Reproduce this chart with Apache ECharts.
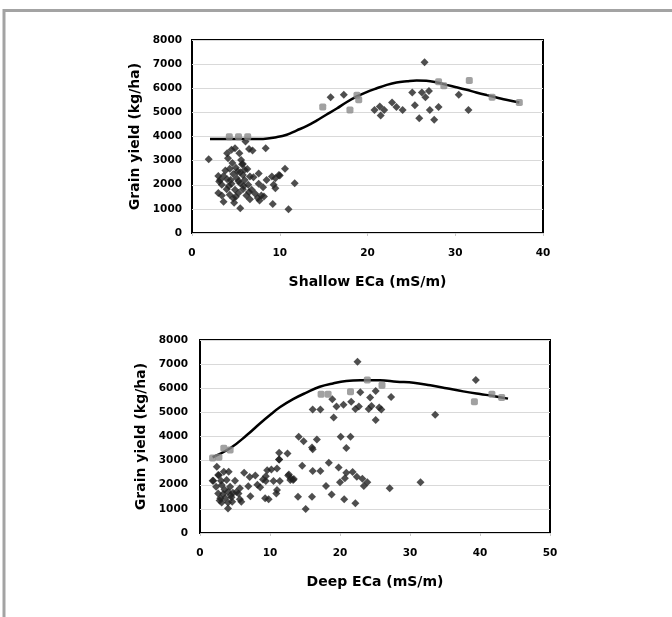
<!DOCTYPE html>
<html>
<head>
<meta charset="utf-8">
<script src="https://cdn.jsdelivr.net/npm/echarts@6/dist/echarts.min.js"></script>
<style>
html,body{margin:0;padding:0;background:#fff;}
#chart{width:672px;height:617px;}
</style>
</head>
<body>
<div id="chart"></div>
<script>
// ---- Data ----
// Shallow ECa panel: observations (x = ECa mS/m, y = grain yield kg/ha)
const shallowX = [1.9,6.1,4.9,4.5,4.0,5.4,6.5,6.9,8.4,4.1,5.6,5.8,4.3,3.8,5.0,5.5,3.0,3.6,4.7,5.8,6.6,7.6,10.6,9.9,9.1,3.2,4.0,5.1,6.0,7.0,8.5,9.5,11.7,3.4,4.5,5.5,6.4,7.6,9.3,9.5,8.1,3.95,4.9,5.8,6.8,3.4,4.3,5.3,6.2,7.2,7.9,3.6,4.7,6.6,7.7,8.2,9.2,5.5,11.0,3.0,10.0,4.6,5.2,6.3,4.2,5.9,6.5,5.0,7.5,6.0,4.4,5.3,5.7,3.1,4.8,
  15.8,17.3,26.5,20.8,21.4,21.5,21.9,22.8,23.3,24.0,25.1,25.4,25.9,26.2,26.6,27.0,27.1,27.6,28.1,30.4,31.5];
const shallowY = [3060,3790,3510,3450,3310,3310,3480,3420,3510,3100,3030,2860,2660,2590,2700,2520,2360,2360,2450,2400,2340,2470,2660,2400,2340,2200,2230,2270,2200,2310,2200,2270,2060,2000,2040,2060,2000,2040,2000,1860,1900,1810,1790,1810,1790,1550,1590,1660,1550,1630,1550,1300,1440,1400,1350,1510,1200,1030,980,1660,2380,2900,2550,2650,1950,1950,1700,1500,1450,2620,2200,2150,2850,2130,1250,
  5630,5730,7080,5100,5240,4870,5100,5410,5220,5100,5820,5300,4760,5820,5630,5890,5100,4690,5220,5730,5100];
// Shallow ECa panel: boundary points (grey)
const shallowBX = [4.25,5.3,6.35,14.9,18.8,18.0,19.0,28.1,28.7,31.6,34.2,37.3];
const shallowBY = [3990,3990,3990,5220,5710,5100,5520,6270,6100,6320,5630,5410];
// Shallow ECa panel: boundary line
const shallowCurveX = [2.05,8.1,9.6,10.8,11.9,13.1,14.2,15.3,16.5,17.6,18.8,19.9,21.0,22.2,23.3,24.5,25.6,26.7,27.9,29.0,30.1,31.3,32.4,33.6,34.7,35.8,37.3];
const shallowCurveY = [3900,3900,3970,4070,4245,4440,4660,4900,5160,5420,5660,5840,5990,6140,6240,6290,6320,6310,6240,6140,6045,5935,5825,5715,5620,5520,5410];

// Deep ECa panel: observations
const deepX = [22.5,39.4,33.6,31.5,27.1,27.3,25.1,24.3,22.9,21.6,22.2,22.7,24.1,24.5,25.6,25.9,25.1,20.5,19.5,18.9,19.1,16.1,17.2,14.1,14.8,16.7,16.0,16.1,20.1,21.5,20.9,11.3,11.3,12.5,14.6,18.4,19.8,16.1,17.2,20.9,21.8,22.4,23.2,20.0,20.7,23.9,23.4,18.0,18.8,14.0,16.0,20.6,22.2,15.1,12.7,13.0,13.4,
  2.4,1.9,2.6,3.4,4.1,3.0,3.8,5.0,2.3,3.1,4.3,5.7,2.6,3.3,4.0,4.7,5.5,2.9,4.5,5.7,3.1,4.0,4.6,5.9,4.0,6.3,7.1,7.9,6.9,7.2,8.6,9.0,9.4,9.6,10.2,11.0,11.3,9.4,10.5,11.4,9.3,10.9,11.0,12.6,12.9,13.3,1.8,2.7,3.5,4.4,2.8,3.6,5.2,8.2,9.8];
const deepY = [7100,6340,4900,2100,1850,5640,5890,5620,5830,5440,5140,5240,5140,5260,5200,5120,4680,5320,5240,5540,4790,5120,5120,3990,3800,3880,3540,3470,3990,3990,3520,3330,3050,3300,2790,2910,2720,2570,2570,2500,2530,2330,2250,2100,2270,2100,1950,1950,1600,1500,1500,1400,1230,1000,2430,2270,2240,
  2750,2170,2400,2540,2540,2170,2200,2170,1920,1990,1920,1850,1640,1620,1710,1670,1640,1440,1480,1400,1260,1260,1300,1300,1020,2500,2320,2380,1940,1520,1900,2220,2350,2600,2630,2670,3050,2160,2160,2160,1440,1640,1780,2380,2200,2200,2170,2390,1800,1560,1350,1450,1700,2000,1400];
// Deep ECa panel: boundary points (grey)
const deepBX = [1.8,2.7,3.4,4.3,17.3,18.3,21.5,23.9,26.0,39.2,41.7,43.1];
const deepBY = [3110,3140,3510,3440,5750,5750,5850,6340,6120,5440,5750,5620];
// Deep ECa panel: boundary line
const deepCurveX = [1.8,4.3,6.7,8.6,10.0,11.4,13.3,15.2,17.1,19.0,20.9,22.9,25.7,28.1,30.5,32.9,35.2,37.6,40.0,41.9,44.0];
const deepCurveY = [3140,3510,4060,4550,4890,5210,5550,5820,6060,6200,6300,6330,6330,6270,6230,6120,6000,5870,5760,5680,5570];

// Axis settings
const yTicks = [0,1000,2000,3000,4000,5000,6000,7000,8000];
const shallowXMax = 40, deepXMax = 50, xStep = 10;
const yLabel = 'Grain yield (kg/ha)';
const shallowName = 'Shallow ECa (mS/m)';
const deepName = 'Deep ECa (mS/m)';

// ---- Build chart ----
const zip = (a, b) => a.map((v, i) => [v, b[i]]);
const FONT = 'DejaVu Sans';
const tickLabel = { fontFamily: FONT, fontWeight: 'bold', fontSize: 10.5, color: '#000' };
const nameStyle = { fontFamily: FONT, fontWeight: 'bold', fontSize: 14, color: '#000' };

function xAxisCfg(gi, max, name) {
  return {
    gridIndex: gi, type: 'value', min: 0, max: max, interval: xStep,
    name: name, nameLocation: 'middle', nameGap: 42, nameTextStyle: nameStyle,
    axisLine: { show: false },
    axisTick: { show: true, length: 3, lineStyle: { color: '#c8c8c8' } },
    axisLabel: Object.assign({ margin: 15, formatter: v => String(v) }, tickLabel),
    splitLine: { show: false }
  };
}
function yAxisCfg(gi, margin, gap) {
  return {
    gridIndex: gi, type: 'value', min: yTicks[0], max: yTicks[yTicks.length - 1], interval: yTicks[1] - yTicks[0],
    name: yLabel, nameLocation: 'middle', nameGap: gap, nameTextStyle: nameStyle,
    axisLine: { show: false }, axisTick: { show: false },
    axisLabel: Object.assign({ margin: margin, formatter: v => String(v) }, tickLabel),
    splitLine: { show: true, lineStyle: { color: '#d9d9d9', width: 1 } }
  };
}
const dark = { color: '#222222' };
const grey = { color: '#8a8a8a' };

const option = {
  animation: false,
  backgroundColor: '#fff',
  graphic: [{
    type: 'rect', z: 100,
    shape: { x: 4, y: 10.5, width: 800, height: 800 },
    style: { fill: 'none', stroke: '#a3a3a3', lineWidth: 3 }
  }],
  grid: [
    { left: 192, top: 40, width: 351, height: 193, show: true, borderColor: '#000', borderWidth: 2, backgroundColor: 'transparent' },
    { left: 200, top: 340, width: 350, height: 193, show: true, borderColor: '#000', borderWidth: 2, backgroundColor: 'transparent' }
  ],
  xAxis: [xAxisCfg(0, shallowXMax, shallowName), xAxisCfg(1, deepXMax, deepName)],
  yAxis: [yAxisCfg(0, 10, 46.5), yAxisCfg(1, 12, 48)],
  series: [
    { type: 'line', xAxisIndex: 0, yAxisIndex: 0, data: zip(shallowCurveX, shallowCurveY), smooth: 0.4, showSymbol: false, lineStyle: { color: '#000', width: 2.5 }, z: 2 },
    { type: 'scatter', xAxisIndex: 0, yAxisIndex: 0, data: zip(shallowX, shallowY), symbol: 'diamond', symbolSize: 8, itemStyle: dark, z: 3 },
    { type: 'scatter', xAxisIndex: 0, yAxisIndex: 0, data: zip(shallowBX, shallowBY), symbol: 'roundRect', symbolSize: 7, itemStyle: grey, z: 4 },
    { type: 'line', xAxisIndex: 1, yAxisIndex: 1, data: zip(deepCurveX, deepCurveY), smooth: 0.4, showSymbol: false, lineStyle: { color: '#000', width: 2.5 }, z: 2 },
    { type: 'scatter', xAxisIndex: 1, yAxisIndex: 1, data: zip(deepX, deepY), symbol: 'diamond', symbolSize: 8, itemStyle: dark, z: 3 },
    { type: 'scatter', xAxisIndex: 1, yAxisIndex: 1, data: zip(deepBX, deepBY), symbol: 'roundRect', symbolSize: 7, itemStyle: grey, z: 4 }
  ]
};
const chart = echarts.init(document.getElementById('chart'), null, { renderer: 'canvas' });
chart.setOption(option);
</script>
</body>
</html>
